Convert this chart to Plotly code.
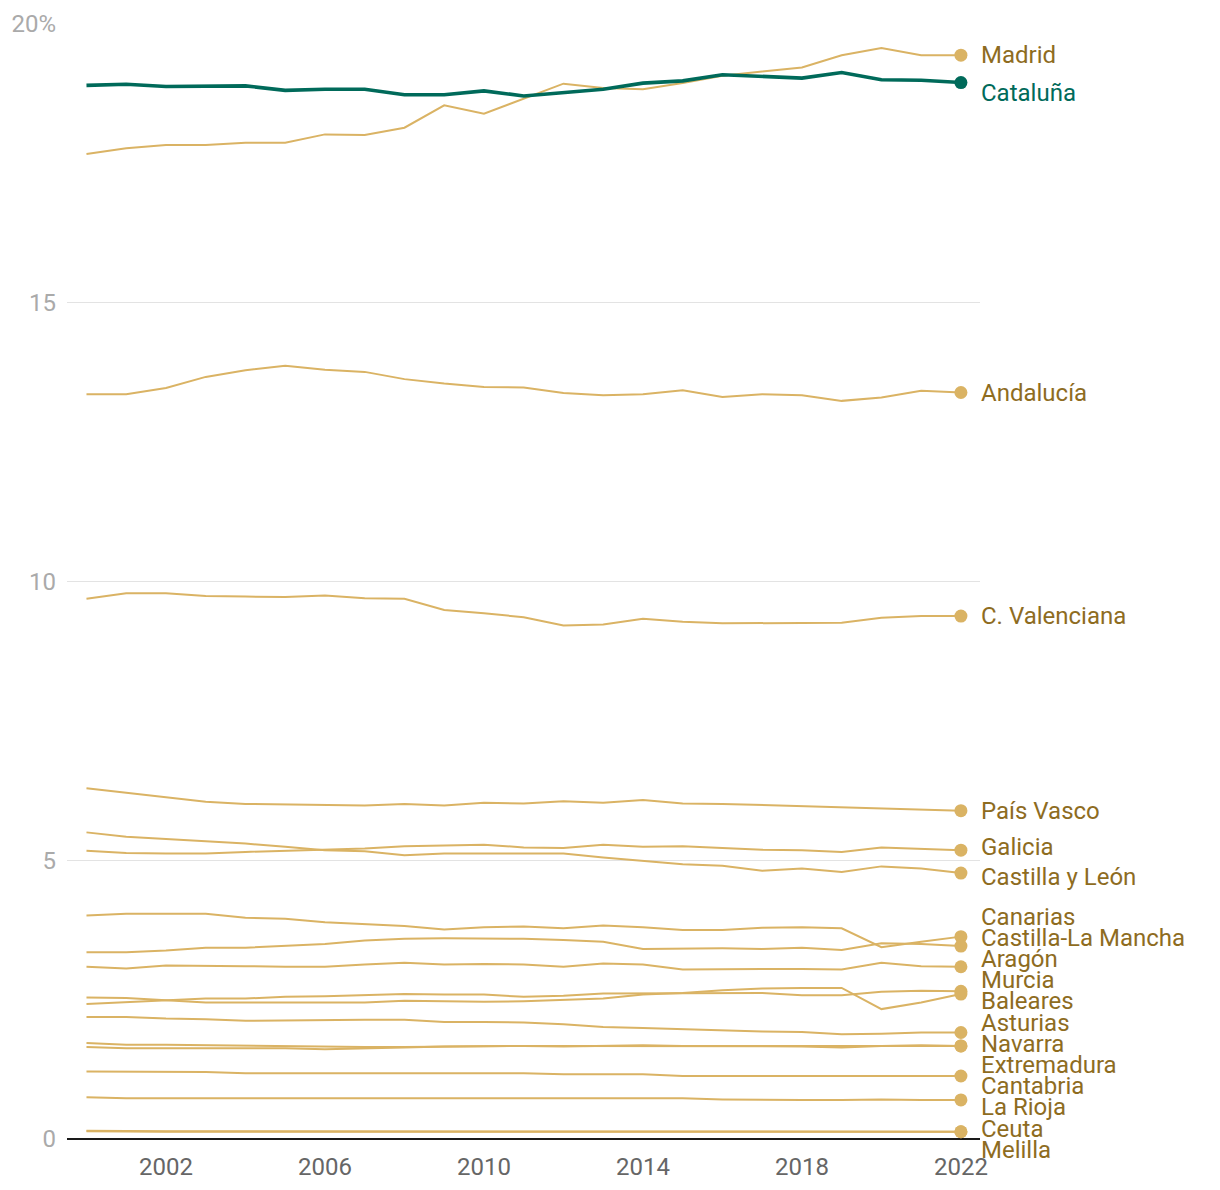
import plotly.graph_objects as go

years = list(range(2000, 2023))

regions = ["Madrid", "Cataluña", "Andalucía", "C. Valenciana", "País Vasco", "Galicia",
           "Castilla y León", "Canarias", "Castilla-La Mancha", "Aragón", "Murcia",
           "Baleares", "Asturias", "Navarra", "Extremadura", "Cantabria", "La Rioja",
           "Ceuta", "Melilla"]

madrid = [17.67, 17.77, 17.83, 17.83, 17.87, 17.87, 18.02, 18.01, 18.14, 18.54, 18.39, 18.66,
          18.93, 18.85, 18.83, 18.94, 19.07, 19.15, 19.22, 19.44, 19.57, 19.44, 19.44]
cataluna = [18.90, 18.92, 18.88, 18.88, 18.89, 18.81, 18.83, 18.83, 18.73, 18.73, 18.80, 18.71,
            18.77, 18.83, 18.94, 18.98, 19.09, 19.06, 19.03, 19.13, 19.00, 18.99, 18.95]
andalucia = [13.36, 13.36, 13.47, 13.67, 13.79, 13.87, 13.80, 13.76, 13.63, 13.55, 13.49, 13.48,
             13.38, 13.34, 13.36, 13.43, 13.31, 13.36, 13.34, 13.24, 13.30, 13.42, 13.39]
valenciana = [9.69, 9.79, 9.79, 9.74, 9.73, 9.72, 9.75, 9.70, 9.69, 9.49, 9.43, 9.36,
              9.21, 9.23, 9.33, 9.28, 9.25, 9.25, 9.26, 9.26, 9.35, 9.38, 9.38]
pais_vasco = [6.29, 6.21, 6.13, 6.05, 6.01, 6.00, 6.00, 5.98, 6.01, 5.98, 6.03, 6.02,
              6.06, 6.03, 6.08, 6.02, 6.01, 5.99, 5.97, 5.95, 5.94, 5.91, 5.89]
galicia = [5.17, 5.13, 5.12, 5.12, 5.15, 5.17, 5.18, 5.21, 5.25, 5.26, 5.28, 5.23,
           5.22, 5.28, 5.24, 5.25, 5.22, 5.19, 5.18, 5.15, 5.23, 5.21, 5.18]
castilla_leon = [5.50, 5.42, 5.38, 5.34, 5.30, 5.24, 5.18, 5.16, 5.09, 5.12, 5.12, 5.12,
                 5.12, 5.05, 4.99, 4.93, 4.90, 4.81, 4.85, 4.79, 4.89, 4.85, 4.77]
canarias = [4.01, 4.04, 4.04, 4.04, 3.97, 3.95, 3.89, 3.85, 3.82, 3.76, 3.80, 3.81,
            3.78, 3.83, 3.80, 3.75, 3.75, 3.79, 3.80, 3.78, 3.44, 3.54, 3.63]
castilla_mancha = [3.35, 3.35, 3.38, 3.43, 3.43, 3.47, 3.50, 3.56, 3.59, 3.60, 3.60, 3.59,
                   3.57, 3.54, 3.41, 3.42, 3.42, 3.41, 3.43, 3.39, 3.51, 3.50, 3.46]
aragon = [3.09, 3.06, 3.11, 3.11, 3.10, 3.09, 3.09, 3.13, 3.16, 3.13, 3.14, 3.13,
          3.09, 3.15, 3.13, 3.04, 3.05, 3.05, 3.05, 3.04, 3.16, 3.10, 3.09]
murcia = [2.42, 2.45, 2.49, 2.52, 2.52, 2.55, 2.56, 2.58, 2.60, 2.59, 2.59, 2.55,
          2.57, 2.61, 2.61, 2.62, 2.62, 2.62, 2.58, 2.58, 2.64, 2.66, 2.65]
baleares = [2.54, 2.53, 2.49, 2.45, 2.45, 2.45, 2.45, 2.45, 2.48, 2.47, 2.46, 2.47,
            2.49, 2.52, 2.59, 2.62, 2.67, 2.70, 2.71, 2.71, 2.33, 2.45, 2.60]
asturias = [2.19, 2.19, 2.16, 2.15, 2.12, 2.13, 2.14, 2.14, 2.14, 2.10, 2.10, 2.09,
            2.06, 2.01, 1.99, 1.97, 1.94, 1.93, 1.92, 1.88, 1.89, 1.91, 1.91]
navarra = [1.72, 1.69, 1.69, 1.68, 1.67, 1.67, 1.66, 1.65, 1.65, 1.66, 1.67, 1.67,
           1.67, 1.67, 1.66, 1.66, 1.66, 1.66, 1.66, 1.64, 1.67, 1.67, 1.67]
extremadura = [1.65, 1.63, 1.63, 1.63, 1.62, 1.63, 1.61, 1.62, 1.64, 1.66, 1.67, 1.67,
               1.66, 1.67, 1.68, 1.67, 1.67, 1.67, 1.66, 1.66, 1.67, 1.68, 1.67]
cantabria = [1.21, 1.21, 1.21, 1.20, 1.18, 1.18, 1.18, 1.18, 1.18, 1.18, 1.18, 1.18,
             1.16, 1.16, 1.16, 1.13, 1.13, 1.13, 1.13, 1.13, 1.14, 1.14, 1.13]
la_rioja = [0.75, 0.73, 0.73, 0.73, 0.73, 0.73, 0.73, 0.73, 0.73, 0.73, 0.73, 0.73,
            0.73, 0.73, 0.73, 0.73, 0.71, 0.70, 0.70, 0.70, 0.71, 0.70, 0.70]
ceuta = [0.15, 0.14, 0.14, 0.14, 0.14, 0.13, 0.13, 0.13, 0.13, 0.14, 0.14, 0.14,
         0.14, 0.14, 0.14, 0.14, 0.14, 0.13, 0.13, 0.13, 0.14, 0.13, 0.13]
melilla = [0.14, 0.13, 0.13, 0.13, 0.13, 0.13, 0.13, 0.13, 0.13, 0.13, 0.13, 0.13,
           0.13, 0.13, 0.13, 0.13, 0.13, 0.13, 0.13, 0.13, 0.13, 0.13, 0.13]

series = [madrid, cataluna, andalucia, valenciana, pais_vasco, galicia, castilla_leon,
          canarias, castilla_mancha, aragon, murcia, baleares, asturias, navarra,
          extremadura, cantabria, la_rioja, ceuta, melilla]

y_range = [0, 20]
y_ticks = [0, 5, 10, 15, 20]
y_tick_text = ["0", "5", "10", "15", "20%"]
x_ticks = [2002, 2006, 2010, 2014, 2018, 2022]

highlight = "Cataluña"
GOLD = "#dab364"
GOLD_TEXT = "#8e6c1f"
GREEN = "#006a5a"
FONT = "Roboto"

fig = go.Figure()

# background (gold) lines first, highlight last
order = [r for r in regions if r != highlight] + [highlight]
data = dict(zip(regions, series))
for r in order:
    vals = data[r]
    hl = r == highlight
    col = GREEN if hl else GOLD
    fig.add_trace(go.Scatter(x=years, y=vals, mode="lines",
                             line=dict(color=col, width=3.6 if hl else 2),
                             hoverinfo="skip", showlegend=False))
    fig.add_trace(go.Scatter(x=[years[-1]], y=[vals[-1]], mode="markers",
                             marker=dict(color=col, size=13),
                             hoverinfo="skip", showlegend=False))

# label de-overlap (cluster method); ties keep the list order
gap = 0.38
items = sorted([(data[r][-1], i, r) for i, r in enumerate(regions)],
               key=lambda t: (-t[0], t[1]))
clusters = [[(v, r)] for v, _, r in items]
changed = True
while changed:
    changed = False
    pos = []
    for c in clusters:
        mean = sum(v for v, _ in c) / len(c)
        pos.append(mean + gap * (len(c) - 1) / 2)
    for i in range(len(clusters) - 1):
        bottom_i = pos[i] - gap * (len(clusters[i]) - 1)
        if bottom_i - pos[i + 1] < gap:
            clusters[i] = clusters[i] + clusters[i + 1]
            del clusters[i + 1]
            changed = True
            break
label_y = {}
for c in clusters:
    mean = sum(v for v, _ in c) / len(c)
    top = mean + gap * (len(c) - 1) / 2
    for k, (_, r) in enumerate(c):
        label_y[r] = top - k * gap

label_shift = {"Cataluña": -10, "Galicia": 3, "Castilla y León": -4}

for r in regions:
    # paper coordinates so labels below the axis range are still drawn
    y_paper = (label_y[r] - y_range[0]) / (y_range[1] - y_range[0])
    fig.add_annotation(x=years[-1], xref="x", y=y_paper, yref="paper",
                       text=r, showarrow=False,
                       xanchor="left", yanchor="middle", xshift=18,
                       yshift=label_shift.get(r, 0),
                       font=dict(family=FONT, size=24,
                                 color=GREEN if r == highlight else GOLD_TEXT))

fig.update_layout(
    width=1204, height=1174,
    margin=dict(l=59, r=232, t=16, b=43),
    paper_bgcolor="white", plot_bgcolor="white",
    font=dict(family=FONT),
    xaxis=dict(range=[1999.51, 2022.48], tickvals=x_ticks, showgrid=False,
               zeroline=False, showline=False, ticks="", automargin=False,
               tickfont=dict(family=FONT, size=24, color="#666666"),
               ticklabelstandoff=11),
    yaxis=dict(range=y_range, tickvals=y_ticks, ticktext=y_tick_text,
               showgrid=True, gridcolor="#e3e3e3", gridwidth=1,
               zeroline=True, zerolinecolor="#1a1a1a", zerolinewidth=2,
               showline=False, ticks="", automargin=False,
               tickfont=dict(family=FONT, size=24, color="#aaaaaa"),
               ticklabelstandoff=10),
)

fig.write_html("out.html")
